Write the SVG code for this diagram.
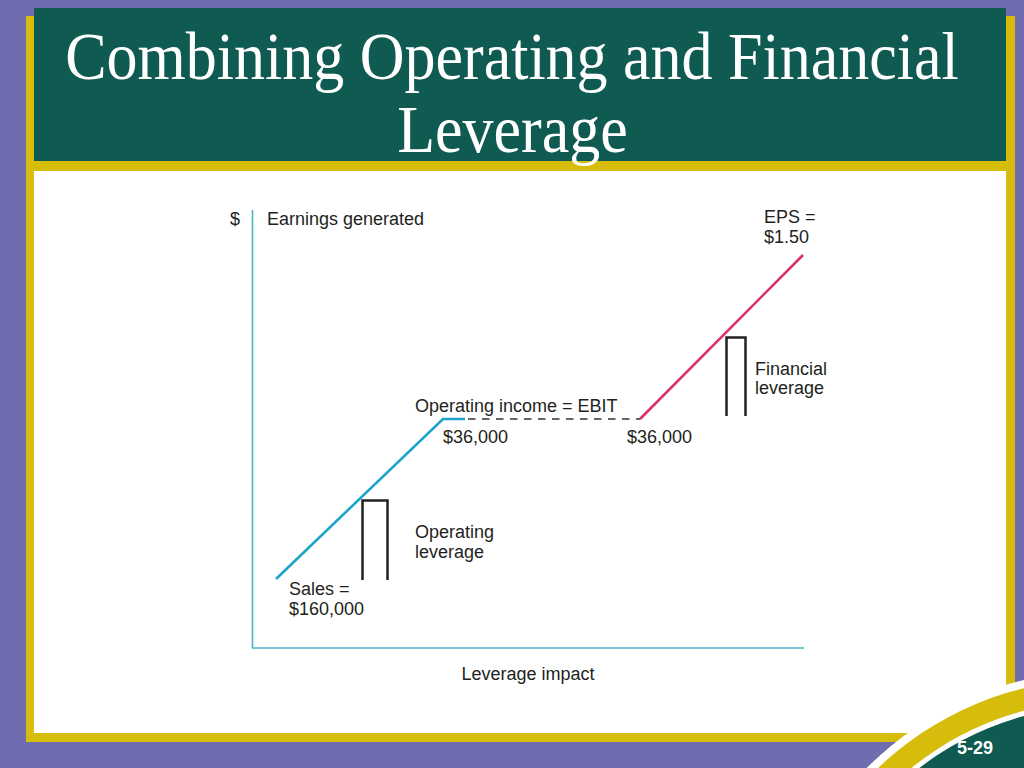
<svg xmlns="http://www.w3.org/2000/svg" width="1024" height="768" viewBox="0 0 1024 768">
<style>
.lbl{font-family:"Liberation Sans",Arial,sans-serif;font-size:18px;fill:#231f20}
.title{font-family:"Liberation Serif","Times New Roman",serif;font-size:62px;fill:#ffffff}
.brk{fill:none;stroke:#231f20;stroke-width:2.5}
.axis{fill:none;stroke:#4ab3cc;stroke-width:1.6}
</style>
<rect x="0" y="0" width="1024" height="768" fill="#6f6caf"/>
<rect x="26" y="16" width="989" height="726" fill="#d6bd0c"/>
<rect x="34" y="171" width="972" height="562" fill="#ffffff"/>
<rect x="34" y="8" width="972" height="153" fill="#0f5a51"/>
<g id="title">
<text class="title" transform="translate(512,79) scale(1,1.097)" x="0" y="0" text-anchor="middle">Combining Operating and Financial</text>
<text class="title" transform="translate(512.5,152) scale(1,1.097)" x="0" y="0" text-anchor="middle">Leverage</text>
</g>
<g id="corner">
<circle cx="1100" cy="1000" r="329" fill="#ffffff"/>
<circle cx="1100" cy="1000" r="321" fill="#d6bd0c"/>
<circle cx="1100" cy="1000" r="299" fill="#ffffff"/>
<circle cx="1100" cy="1000" r="294" fill="#0f5a51"/>
<text x="975" y="754" text-anchor="middle" font-family="'Liberation Sans',Arial,sans-serif" font-weight="bold" font-size="18" fill="#ffffff">5-29</text>
</g>
<g id="axes">
<path class="axis" d="M252.5,210 V648 H804"/>
<text class="lbl" x="230" y="225">$</text>
<text class="lbl" x="267" y="225">Earnings generated</text>
<text class="lbl" x="528" y="680" text-anchor="middle">Leverage impact</text>
</g>
<g id="connectors">
<path d="M276,579 L443,419 H465" fill="none" stroke="#1da4c9" stroke-width="2.6"/>
<path d="M468,419 H640" fill="none" stroke="#333333" stroke-width="1.6" stroke-dasharray="7.5,6.5"/>
<path d="M640,419 L803,255" fill="none" stroke="#d6336e" stroke-width="2.6"/>
</g>
<g id="sales">
<text class="lbl" x="289" y="595">Sales =</text>
<text class="lbl" x="289" y="615">$160,000</text>
</g>
<g id="operating-leverage">
<path class="brk" d="M362.5,580 V500.5 H387.5 V580"/>
<text class="lbl" x="415" y="538">Operating</text>
<text class="lbl" x="415" y="558">leverage</text>
</g>
<g id="ebit">
<text class="lbl" x="415" y="412">Operating income = EBIT</text>
<text class="lbl" x="443" y="443">$36,000</text>
<text class="lbl" x="627" y="443">$36,000</text>
</g>
<g id="financial-leverage">
<path class="brk" d="M726.5,416 V337.5 H745.5 V416"/>
<text class="lbl" x="755" y="375">Financial</text>
<text class="lbl" x="755" y="394">leverage</text>
</g>
<g id="eps">
<text class="lbl" x="764" y="223">EPS =</text>
<text class="lbl" x="764" y="243">$1.50</text>
</g>
</svg>
